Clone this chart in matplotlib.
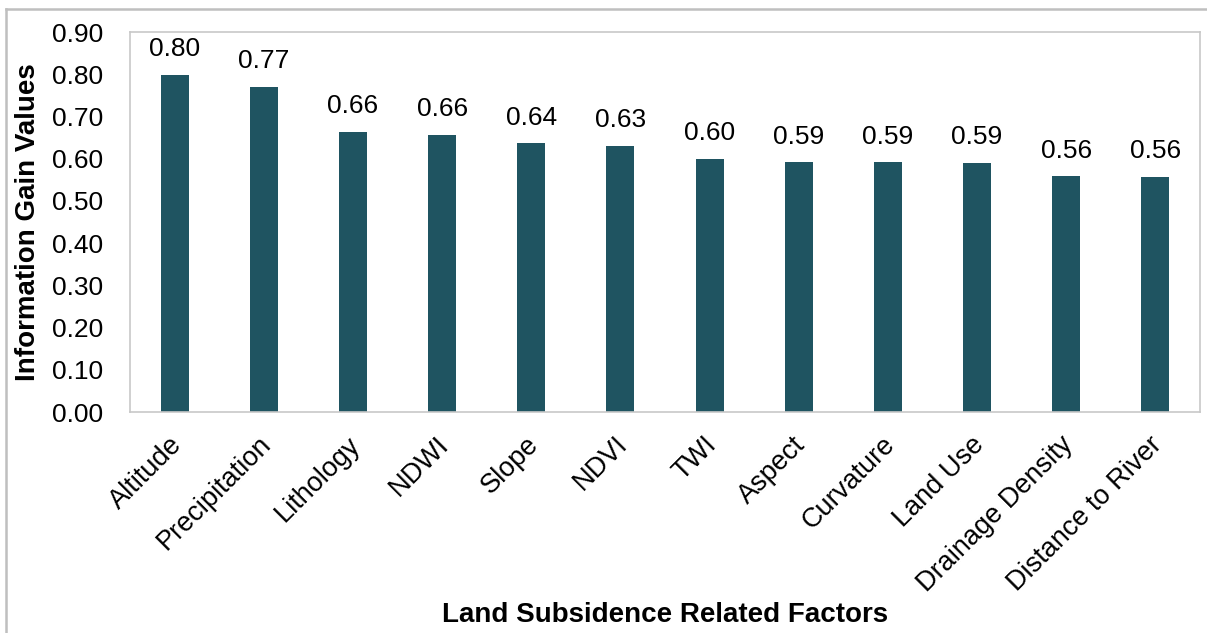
import matplotlib
matplotlib.use("Agg")
import matplotlib.pyplot as plt
from matplotlib.lines import Line2D
from matplotlib.transforms import ScaledTranslation

factors = ["Altitude", "Precipitation", "Lithology", "NDWI", "Slope", "NDVI",
           "TWI", "Aspect", "Curvature", "Land Use", "Drainage Density",
           "Distance to River"]
info_gain = [0.798, 0.769, 0.664, 0.656, 0.636, 0.630,
             0.600, 0.591, 0.591, 0.589, 0.558, 0.556]
y_ticks = [0.00, 0.10, 0.20, 0.30, 0.40, 0.50, 0.60, 0.70, 0.80, 0.90]

plt.rcParams["font.family"] = ["Liberation Sans", "DejaVu Sans"]

W, H = 1207, 633
fig = plt.figure(figsize=(W / 100, H / 100), dpi=100)
ax = fig.add_axes([130 / W, 1 - 412 / H, (1200 - 130) / W, (412 - 32) / H])

bar_color = "#1F5461"
bars = ax.bar(range(len(factors)), info_gain, width=0.315, color=bar_color)
ax.bar_label(bars, labels=[f"{v:.2f}" for v in info_gain], padding=10, fontsize=19)

ax.set_xlim(-0.5, len(factors) - 0.5)
ax.set_ylim(0, 0.90)
ax.set_yticks(y_ticks)
ax.set_yticklabels([f"{t:.2f}" for t in y_ticks])
ax.tick_params(axis="y", length=0, pad=19, labelsize=19)
ax.tick_params(axis="x", length=0, pad=14, labelsize=19.5)
ax.set_xticks(range(len(factors)))
ax.set_xticklabels(factors, rotation=45, ha="right", rotation_mode="anchor")
shift = ScaledTranslation(-6 / 100, 0, fig.dpi_scale_trans)
for lbl in ax.get_xticklabels():
    lbl.set_transform(lbl.get_transform() + shift)

for s in ax.spines.values():
    s.set_color("#C8C8C8")
    s.set_linewidth(1.2)

ax.set_ylabel("Information Gain Values", fontsize=20, fontweight="bold", labelpad=8)
fig.text(665 / W, 1 - 615 / H, "Land Subsidence Related Factors", fontsize=20,
         fontweight="bold", ha="center", va="center")

# outer frame
fig.add_artist(Line2D([6 / W, 6 / W], [0, 1 - 9 / H], color="#BFBFBF", lw=1.8,
                      transform=fig.transFigure))
fig.add_artist(Line2D([6 / W, 1], [1 - 9 / H, 1 - 9 / H], color="#BFBFBF", lw=1.8,
                      transform=fig.transFigure))

fig.savefig("out.png", dpi=100)
